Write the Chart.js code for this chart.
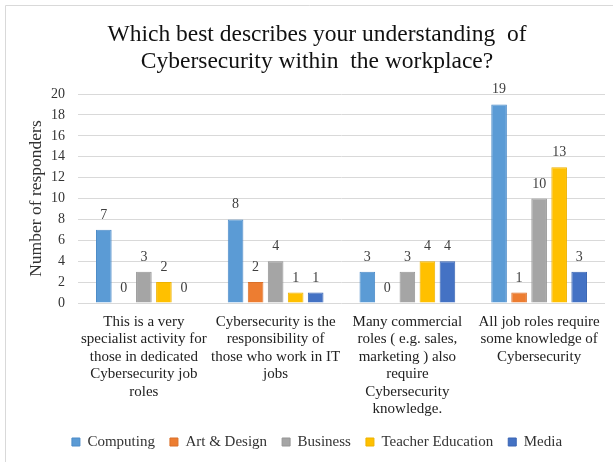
<!DOCTYPE html>
<html>
<head>
<meta charset="utf-8">
<script src="https://cdn.jsdelivr.net/npm/chart.js@4/dist/chart.umd.min.js"></script>
<style>
  html, body { margin: 0; padding: 0; background: #ffffff; }
  #wrap { position: relative; width: 613px; height: 462px; }
  canvas { display: block; }
</style>
</head>
<body>
<div id="wrap"><canvas id="c" width="613" height="462"></canvas></div>
<script>
// ---- Data ----
const titleLines = ["Which best describes your understanding  of", "Cybersecurity within  the workplace?"];
const yAxisTitle = "Number of responders";
const categories = [
  ["This is a very", "specialist activity for", "those in dedicated", "Cybersecurity job", "roles"],
  ["Cybersecurity is the", "responsibility of", "those who work in IT", "jobs"],
  ["Many commercial", "roles ( e.g. sales,", "marketing ) also", "require", "Cybersecurity", "knowledge."],
  ["All job roles require", "some knowledge of", "Cybersecurity"]
];
const seriesNames = ["Computing", "Art & Design", "Business", "Teacher Education", "Media"];
const computing = [7, 8, 3, 19];
const artDesign = [0, 2, 0, 1];
const business = [3, 4, 3, 10];
const teacherEducation = [2, 1, 4, 13];
const media = [0, 1, 4, 3];
const yTicks = [0, 2, 4, 6, 8, 10, 12, 14, 16, 18, 20];

// ---- Styles ----
const fills = ["#5B9BD5", "#ED7D31", "#A5A5A5", "#FFC000", "#4472C4"];
const borders = ["#4C8BC8", "#D9702A", "#959595", "#EDB200", "#3A65B3"];
const serif = "'Liberation Serif', 'Times New Roman', serif";
const seriesValues = [computing, artDesign, business, teacherEducation, media];

const datasets = seriesNames.map((name, i) => ({
  label: name,
  data: seriesValues[i],
  backgroundColor: fills[i],
  borderColor: borders[i],
  borderWidth: 1,
  categoryPercentage: 0.76,
  barPercentage: 0.78
}));

const frame = {
  id: 'frame',
  beforeDraw(chart) {
    const ctx = chart.ctx;
    ctx.save();
    ctx.strokeStyle = '#d9d9d9';
    ctx.lineWidth = 1;
    ctx.beginPath();
    ctx.moveTo(5.5, chart.height);
    ctx.lineTo(5.5, 5.5);
    ctx.lineTo(chart.width, 5.5);
    ctx.stroke();
    ctx.restore();
  }
};

const shiftBoxes = {
  id: 'shiftBoxes',
  afterLayout(chart) {
    const target = 317;
    [chart.titleBlock, chart.legend].forEach(b => {
      if (!b) return;
      const d = target - (b.left + b.right) / 2;
      b.left += d; b.right += d;
    });
  }
};

const valueLabels = {
  id: 'valueLabels',
  afterDatasetsDraw(chart) {
    const ctx = chart.ctx;
    ctx.save();
    ctx.font = "14px " + serif;
    ctx.fillStyle = '#404040';
    ctx.textAlign = 'center';
    ctx.textBaseline = 'alphabetic';
    chart.data.datasets.forEach((ds, di) => {
      const meta = chart.getDatasetMeta(di);
      meta.data.forEach((bar, i) => {
        ctx.fillText(String(ds.data[i]), bar.x, bar.y - 11);
      });
    });
    ctx.restore();
  }
};

new Chart(document.getElementById('c'), {
  type: 'bar',
  data: { labels: categories, datasets },
  plugins: [frame, shiftBoxes, valueLabels],
  options: {
    responsive: false,
    animation: false,
    layout: { padding: { left: 6, right: 8, top: 6, bottom: 2.5 } },
    plugins: {
      tooltip: { enabled: false },
      title: {
        display: true,
        text: titleLines,
        color: '#111111',
        font: { family: serif, size: 23.5, weight: 'normal', lineHeight: 1.15 },
        padding: { top: 15.5, bottom: 18.5 }
      },
      legend: {
        position: 'bottom',
        labels: {
          boxWidth: 8,
          boxHeight: 8,
          padding: 15,
          color: '#333333',
          font: { family: serif, size: 15 }
        }
      }
    },
    scales: {
      x: {
        grid: { display: false, drawTicks: false },
        border: { display: false },
        ticks: {
          color: '#222222',
          padding: 10,
          maxRotation: 0,
          autoSkip: false,
          font: { family: serif, size: 15, lineHeight: 1.1667 }
        },
        afterFit(scale) { scale.height = 116.5; }
      },
      y: {
        min: 0,
        max: 20,
        afterBuildTicks(scale) { scale.ticks = yTicks.map(v => ({ value: v })); },
        grid: { color: '#d9d9d9', lineWidth: 1, drawTicks: false },
        border: { display: false },
        ticks: {
          color: '#333333',
          padding: 13,
          font: { family: serif, size: 14 }
        },
        title: {
          display: true,
          text: yAxisTitle,
          color: '#333333',
          font: { family: serif, size: 17.5 },
          padding: { top: 20 }
        },
        afterFit(scale) { scale.width = 72; }
      }
    }
  }
});
</script>
</body>
</html>
